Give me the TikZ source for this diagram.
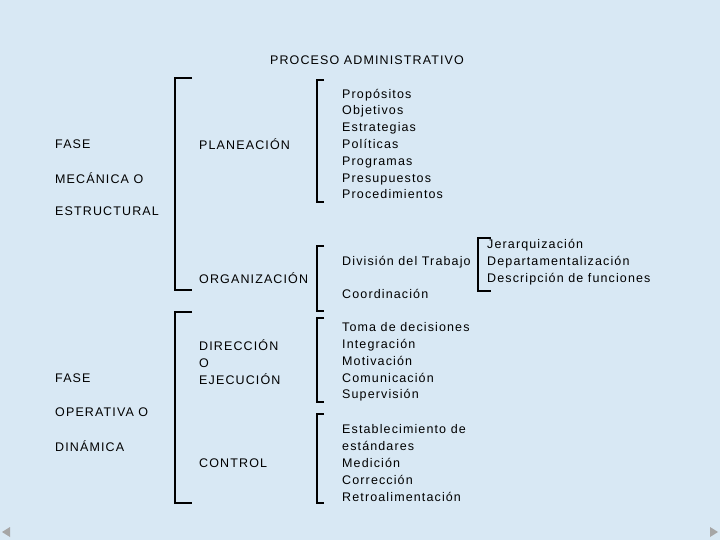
\documentclass[tikz,border=0pt]{standalone}
\usepackage{fontspec}
\setmainfont{Liberation Sans}[LetterSpace=9]
\definecolor{bgc}{RGB}{216,232,244}
\begin{document}
\begin{tikzpicture}[x=1pt,y=-1pt,
  txt/.style={anchor=west,inner sep=0pt,align=left,font=\fontsize{12.5}{16.8}\selectfont,text=black},
  brk/.style={draw=black,line width=1.6pt}]
\fill[bgc] (0,0) rectangle (720,540);
\useasboundingbox (0,0) rectangle (720,540);
\fill[gray!70] (2,532) -- (10,527) -- (10,537) -- cycle;
\fill[gray!70] (718,532) -- (710,527) -- (710,537) -- cycle;
\node[txt,anchor=center] (t) at (367,60) {PROCESO ADMINISTRATIVO};
\node[txt] (f1) at (55,144) {FASE};
\node[txt] (f2) at (55,178) {MECÁNICA O};
\node[txt] (f3) at (55,211) {ESTRUCTURAL};
\node[txt] (f4) at (55,378) {FASE};
\node[txt] (f5) at (55,412) {OPERATIVA O};
\node[txt] (f6) at (55,446) {DINÁMICA};
\node[txt] (pl) at (199,144) {PLANEACIÓN};
\node[txt] (or) at (199,278) {ORGANIZACIÓN};
\node[txt] (di) at (199,362) {DIRECCIÓN\\O\\EJECUCIÓN};
\node[txt] (co) at (199,463) {CONTROL};
\node[txt] (l1) at (342,144) {Propósitos\\Objetivos\\Estrategias\\Políticas\\Programas\\Presupuestos\\Procedimientos};
\node[txt] (dt) at (342,262) {División del Trabajo};
\node[txt] (cd) at (342,294) {Coordinación};
\node[txt] (jr) at (487,262) {Jerarquización\\Departamentalización\\Descripción de funciones};
\node[txt] (l3) at (342,362) {Toma de decisiones\\Integración\\Motivación\\Comunicación\\Supervisión};
\node[txt] (l4) at (342,463) {Establecimiento de\\estándares\\Medición\\Corrección\\Retroalimentación};
\draw[brk] (192,78) -- (175,78) -- (175,290) -- (192,290);
\draw[brk] (192,312) -- (175,312) -- (175,503) -- (192,503);
\draw[brk] (324,80) -- (317,80) -- (317,202) -- (324,202);
\draw[brk] (324,246) -- (317,246) -- (317,311) -- (324,311);
\draw[brk] (324,318) -- (317,318) -- (317,402) -- (324,402);
\draw[brk] (324,414) -- (317,414) -- (317,503) -- (324,503);
\draw[brk] (491,238) -- (478,238) -- (478,291) -- (491,291);
\end{tikzpicture}
\end{document}
